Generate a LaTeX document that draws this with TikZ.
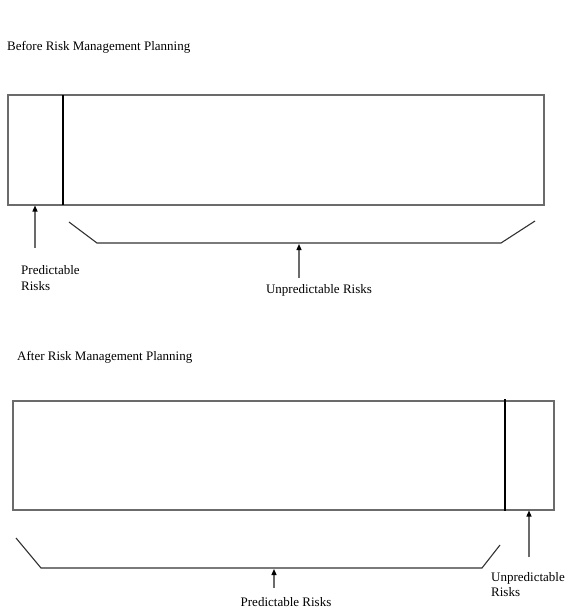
\documentclass[tikz,border=0pt]{standalone}
\usepackage{fontspec}
\setmainfont{Liberation Serif}
\usetikzlibrary{arrows.meta}
\begin{document}
\begin{tikzpicture}[x=1pt,y=-1pt,
  lbl/.style={inner sep=0pt,font=\fontsize{13}{15.5}\selectfont,text=black},
  boxframe/.style={draw=black!58,line width=1.4pt,inner sep=0pt},
  divider/.style={draw=black,line width=2.2pt},
  brace/.style={draw=black!80,line width=1.1pt,line join=miter},
  pointer/.style={draw=black!58,line width=1.3pt,-{Triangle[length=6pt,width=5pt,black]}}]
\useasboundingbox (0,0) rectangle (572,613);
% titles
\node[lbl,anchor=west] (t1) at (7,47) {Before Risk Management Planning};
\node[lbl,anchor=west] (t2) at (17,357) {After Risk Management Planning};
% top box
\node[boxframe,minimum width=536pt,minimum height=110pt] (box1) at (276,150) {};
\coordinate (d1t) at (63,95);
\coordinate (d1b) at (63,205);
\draw[divider] (d1t) -- (d1b);
% top labels
\node[lbl,anchor=north west,align=left] (p1) at (21,265.5) {Predictable\\Risks};
\node[lbl] (u1) at (319,290) {Unpredictable Risks};
\coordinate (a1s) at (35,248);
\coordinate (a1e) at (35,205.5);
\draw[pointer] (a1s) -- (a1e);
\coordinate (b1a) at (69,222);
\coordinate (b1b) at (97,243);
\coordinate (b1c) at (501,243);
\coordinate (b1d) at (535,221);
\draw[brace] (b1a) -- (b1b) -- (b1c) -- (b1d);
\coordinate (a2s) at (299,278);
\coordinate (a2e) at (299,244);
\draw[pointer] (a2s) -- (a2e);
% bottom box
\node[boxframe,minimum width=541pt,minimum height=109pt] (box2) at (283.5,455.5) {};
\coordinate (d2t) at (505,399);
\coordinate (d2b) at (505,511);
\draw[divider] (d2t) -- (d2b);
\coordinate (b2a) at (16,538);
\coordinate (b2b) at (41,568);
\coordinate (b2c) at (482,568);
\coordinate (b2d) at (500,545);
\draw[brace] (b2a) -- (b2b) -- (b2c) -- (b2d);
\coordinate (a3s) at (274,588);
\coordinate (a3e) at (274,569);
\draw[pointer] (a3s) -- (a3e);
\node[lbl] (p2) at (286,602) {Predictable Risks};
\coordinate (a4s) at (529,557);
\coordinate (a4e) at (529,510.5);
\draw[pointer] (a4s) -- (a4e);
\node[lbl,anchor=north west,align=left] (u2) at (491,572) {Unpredictable\\Risks};
\end{tikzpicture}
\end{document}
